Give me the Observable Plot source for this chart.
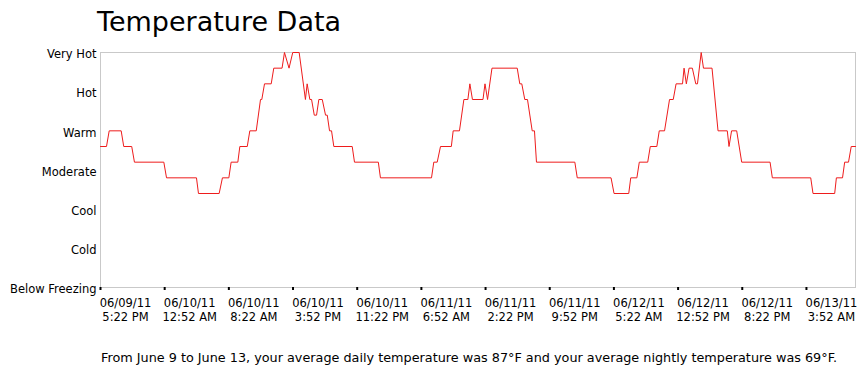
<!DOCTYPE html>
<html>
<head>
<meta charset="utf-8">
<script src="https://cdn.jsdelivr.net/npm/d3@7"></script>
<script src="https://cdn.jsdelivr.net/npm/@observablehq/plot@0.6"></script>
<style>
  html, body { margin: 0; padding: 0; background: #fff; }
  body { width: 865px; height: 368px; overflow: hidden; font-family: "DejaVu Sans", sans-serif; }
  #title { height: 46px; padding-left: 97px; font-size: 27px; line-height: 44px; color: #000; box-sizing: border-box; }
  #chart svg { display: block; }
  #caption { padding-left: 101px; padding-top: 14px; font-size: 12.8px; color: #000; }
</style>
</head>
<body>
<div id="title">Temperature Data</div>
<div id="chart"></div>
<div id="caption">From June 9 to June 13, your average daily temperature was 87°F and your average nightly temperature was 69°F.</div>
<script>
const times = [
  "2011-06-09 17:22","2011-06-09 18:04","2011-06-09 18:23","2011-06-09 19:47","2011-06-09 20:05",
  "2011-06-09 21:01","2011-06-09 21:20","2011-06-10 00:46","2011-06-10 01:05","2011-06-10 04:35",
  "2011-06-10 04:49","2011-06-10 07:14","2011-06-10 07:37","2011-06-10 08:22","2011-06-10 08:38",
  "2011-06-10 09:25","2011-06-10 09:39","2011-06-10 10:31","2011-06-10 10:49","2011-06-10 11:34",
  "2011-06-10 12:04","2011-06-10 12:13","2011-06-10 12:32","2011-06-10 13:19","2011-06-10 13:37",
  "2011-06-10 14:35","2011-06-10 14:52","2011-06-10 15:24","2011-06-10 15:50","2011-06-10 16:35",
  "2011-06-10 17:19","2011-06-10 17:31","2011-06-10 17:50","2011-06-10 18:02","2011-06-10 18:21",
  "2011-06-10 18:37","2011-06-10 18:53","2011-06-10 19:17","2011-06-10 19:40","2011-06-10 19:52",
  "2011-06-10 20:08","2011-06-10 20:22","2011-06-10 20:38","2011-06-10 22:47","2011-06-10 23:03",
  "2011-06-11 01:50","2011-06-11 02:05","2011-06-11 08:03","2011-06-11 08:19","2011-06-11 08:43",
  "2011-06-11 09:06","2011-06-11 10:22","2011-06-11 10:35","2011-06-11 11:19","2011-06-11 11:50",
  "2011-06-11 12:18","2011-06-11 12:32","2011-06-11 12:50","2011-06-11 14:04","2011-06-11 14:18",
  "2011-06-11 14:36","2011-06-11 15:07","2011-06-11 18:04","2011-06-11 18:22","2011-06-11 18:36",
  "2011-06-11 18:57","2011-06-11 19:16","2011-06-11 19:49","2011-06-11 20:05","2011-06-11 20:19",
  "2011-06-12 00:48","2011-06-12 01:05","2011-06-12 05:02","2011-06-12 05:23","2011-06-12 07:06",
  "2011-06-12 07:20","2011-06-12 08:03","2011-06-12 08:20","2011-06-12 09:19","2011-06-12 09:37",
  "2011-06-12 10:23","2011-06-12 10:40","2011-06-12 11:17","2011-06-12 11:52","2011-06-12 12:18",
  "2011-06-12 12:38","2011-06-12 13:23","2011-06-12 13:34","2011-06-12 13:50","2011-06-12 14:09",
  "2011-06-12 14:32","2011-06-12 14:56","2011-06-12 15:08","2011-06-12 15:34","2011-06-12 15:50",
  "2011-06-12 16:50","2011-06-12 17:32","2011-06-12 18:37","2011-06-12 18:49","2011-06-12 19:07",
  "2011-06-12 19:43","2011-06-12 20:18","2011-06-12 23:37","2011-06-12 23:53","2011-06-13 04:22",
  "2011-06-13 04:38","2011-06-13 07:10","2011-06-13 07:22","2011-06-13 08:05","2011-06-13 08:20",
  "2011-06-13 08:47","2011-06-13 09:06","2011-06-13 09:36"
];
const levels = [
  18,18,20,20,18, 18,16,16,14,14,
  12,12,14,14,16, 16,18,18,20,20,
  24,24,26,26,28, 28,30,28,30,30,
  24,26,24,24,22, 22,24,24,22,22,
  20,20,18,18,16, 16,14,14,16,16,
  18,18,20,20,24, 24,26,24,24,26,
  24,28,28,26,26, 24,24,20,20,16,
  16,14,14,12,12, 14,14,16,16,18,
  18,20,20,24,24, 26,26,28,26,28,
  28,26,26,30,28, 28,20,20,18,20,
  20,16,16,14,14, 12,12,14,14,16,
  16,18,18
];
const yTickValues = [0, 5, 10, 15, 20, 25, 30];
const yTickLabels = ["Below Freezing", "Cold", "Cool", "Moderate", "Warm", "Hot", "Very Hot"];
const xTickTimes = [
  "2011-06-09 17:22","2011-06-10 00:52","2011-06-10 08:22","2011-06-10 15:52",
  "2011-06-10 23:22","2011-06-11 06:52","2011-06-11 14:22","2011-06-11 21:52",
  "2011-06-12 05:22","2011-06-12 12:52","2011-06-12 20:22","2011-06-13 03:52"
];
const xDomainTimes = ["2011-06-09 17:22", "2011-06-13 09:36"];

const parse = d3.utcParse("%Y-%m-%d %H:%M");
const data = times.map((t, i) => ({time: parse(t), level: levels[i]}));
const xTicks = xTickTimes.map(parse);
const fmtDate = d3.utcFormat("%m/%d/%y");
const fmtTime = d3.utcFormat("%-I:%M %p");

const chart = Plot.plot({
  width: 865,
  height: 290,
  marginLeft: 100,
  marginRight: 10,
  marginTop: 6,
  marginBottom: 49,
  style: {fontFamily: "DejaVu Sans, sans-serif", fontSize: "11.5px", color: "#000", background: "#fff"},
  x: {type: "utc", domain: xDomainTimes.map(parse), label: null},
  y: {domain: [0, 30], label: null},
  marks: [
    Plot.frame({stroke: "#c9c9c9"}),
    Plot.axisY({ticks: yTickValues, tickSize: 0, tickPadding: 4, dy: 2, label: null, tickFormat: v => yTickLabels[yTickValues.indexOf(v)], fontSize: 11.5, fill: "#000"}),
    Plot.axisX({ticks: xTicks, tickSize: 3, label: null, tickFormat: () => "", stroke: "#000", strokeWidth: 2}),
    Plot.text(xTicks, {x: d => d, text: d => fmtDate(d) + "\n" + fmtTime(d), frameAnchor: "bottom", lineAnchor: "top", dy: 9, dx: 25, lineHeight: 1.27, fontSize: 11.5, fill: "#000", textAnchor: "middle"}),
    Plot.line(data, {x: "time", y: "level", stroke: "#ee1c1c", strokeWidth: 1})
  ]
});
document.getElementById("chart").appendChild(chart);
</script>
</body>
</html>
